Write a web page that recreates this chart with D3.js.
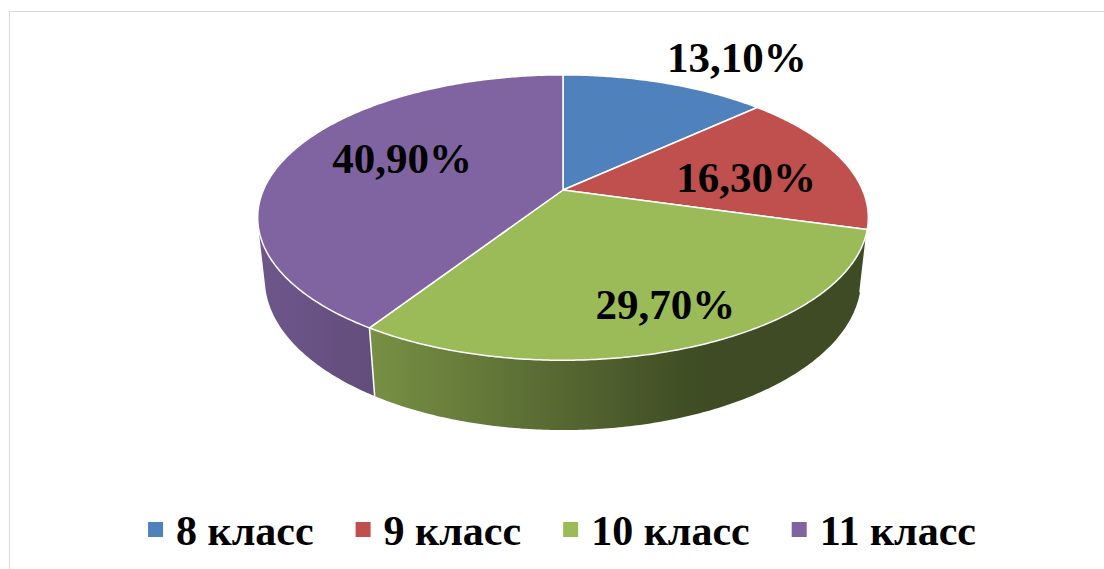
<!DOCTYPE html>
<html>
<head>
<meta charset="utf-8">
<script src="https://cdn.jsdelivr.net/npm/d3@7"></script>
<style>
  body { margin: 0; background: #fff; }
  text { font-family: "Liberation Serif", "Times New Roman", serif; font-weight: bold; }
</style>
</head>
<body>
<svg id="chart" width="1104" height="569"></svg>
<script>
// chart data
const categories = ['8 класс', '9 класс', '10 класс', '11 класс'];
const values = [13.1, 16.3, 29.7, 40.9];
const valueLabels = ['13,10%', '16,30%', '29,70%', '40,90%'];
const colors = ['#4F81BD', '#C0504D', '#9BBB59', '#8064A2'];

// label nudges (px) from the projected slice centre
const labelNudge = [[109, -65], [13, 6], [31, 27], [6, -10]];

const svg = d3.select('#chart');

// outer frame
svg.append('rect')
  .attr('x', 9.5).attr('y', 11.5)
  .attr('width', 1200).attr('height', 600)
  .attr('fill', 'none').attr('stroke', '#d9d9d9');

// perspective set-up for the 3d pie
const cx = 563, cy = 190, k = 1378, L = 4.6, thick = 0.2324;
const sb = 0.4585, cb = Math.sqrt(1 - sb * sb);

/**
 * project a point on the pie (angle, radius fraction, level) onto screen
 */
function proj(phi, r, y0) {
  const s = Math.sin(phi), c = Math.cos(phi);
  const depth = L - y0 * sb + r * c * cb;
  const sx = r * s / depth;
  const sy = (y0 * cb + r * c * sb) / depth;
  return [cx + k * sx, cy - k * sy];
}

function arcPoints(a0, a1, y0) {
  const n = Math.max(2, Math.ceil(Math.abs(a1 - a0) / 0.01));
  return d3.range(n + 1).map(i => proj(a0 + (a1 - a0) * i / n, 1, y0));
}

const pie = d3.pie().sort(null).value(d => d)(values);
const line = d3.line();

// the rim is visible where its normal faces the camera
const vis0 = Math.acos(-1 / (L * cb));
const vis1 = 2 * Math.PI - vis0;

// side shading by screen x
const shade = d3.scaleLinear()
  .domain([258, 370, 700, 870])
  .range([0.86, 0.77, 0.40, 0.40])
  .clamp(true);

const defs = svg.append('defs');
pie.forEach((d, i) => {
  const g = defs.append('linearGradient')
    .attr('id', 'side' + i)
    .attr('gradientUnits', 'userSpaceOnUse')
    .attr('x1', 258).attr('x2', 870).attr('y1', 0).attr('y2', 0);
  d3.range(0, 1.0001, 0.05).forEach(t => {
    const x = 258 + t * (870 - 258);
    g.append('stop')
      .attr('offset', t)
      .attr('stop-color', d3.interpolateRgb('#000', colors[i])(shade(x)));
  });
});

// sides
const sides = svg.append('g');
pie.forEach((d, i) => {
  const a0 = Math.max(d.startAngle, vis0);
  const a1 = Math.min(d.endAngle, vis1);
  if (a1 <= a0) return;
  const pts = arcPoints(a0, a1, 0).concat(arcPoints(a1, a0, -thick));
  sides.append('path')
    .attr('d', line(pts) + 'Z')
    .attr('fill', 'url(#side' + i + ')');
});
// vertical dividers between side faces
pie.forEach(d => {
  const a = d.startAngle;
  if (a > vis0 && a < vis1) {
    const p0 = proj(a, 1, 0), p1 = proj(a, 1, -thick);
    sides.append('line')
      .attr('x1', p0[0]).attr('y1', p0[1])
      .attr('x2', p1[0]).attr('y2', p1[1])
      .attr('stroke', '#fff').attr('stroke-width', 1.5);
  }
});

// top faces
const apex = proj(0, 0, 0);
svg.append('g').selectAll('path')
  .data(pie)
  .join('path')
  .attr('d', d => line([apex].concat(arcPoints(d.startAngle, d.endAngle, 0))) + 'Z')
  .attr('fill', (d, i) => colors[i])
  .attr('stroke', '#fff')
  .attr('stroke-width', 1.5)
  .attr('stroke-linejoin', 'round');

// data labels
svg.append('g').selectAll('text')
  .data(pie)
  .join('text')
  .attr('x', (d, i) => proj((d.startAngle + d.endAngle) / 2, 0.6, 0)[0] + labelNudge[i][0])
  .attr('y', (d, i) => proj((d.startAngle + d.endAngle) / 2, 0.6, 0)[1] + labelNudge[i][1])
  .attr('dy', '0.35em')
  .attr('text-anchor', 'middle')
  .attr('font-size', 43)
  .attr('fill', '#000')
  .text((d, i) => valueLabels[i]);

// legend
const legend = svg.append('g');
const items = categories.map((c, i) => {
  const g = legend.append('g');
  g.append('rect')
    .attr('x', 0).attr('y', -23)
    .attr('width', 15).attr('height', 15)
    .attr('fill', colors[i]);
  const t = g.append('text')
    .attr('x', 28).attr('y', 0)
    .attr('font-size', 42)
    .attr('fill', '#000')
    .text(c);
  return {g: g, w: 28 + t.node().getComputedTextLength()};
});
const gap = 42;
const total = d3.sum(items, d => d.w) + gap * (items.length - 1);
let lx = 562 - total / 2;
items.forEach(it => {
  it.g.attr('transform', 'translate(' + lx + ',545)');
  lx += it.w + gap;
});
</script>
</body>
</html>
